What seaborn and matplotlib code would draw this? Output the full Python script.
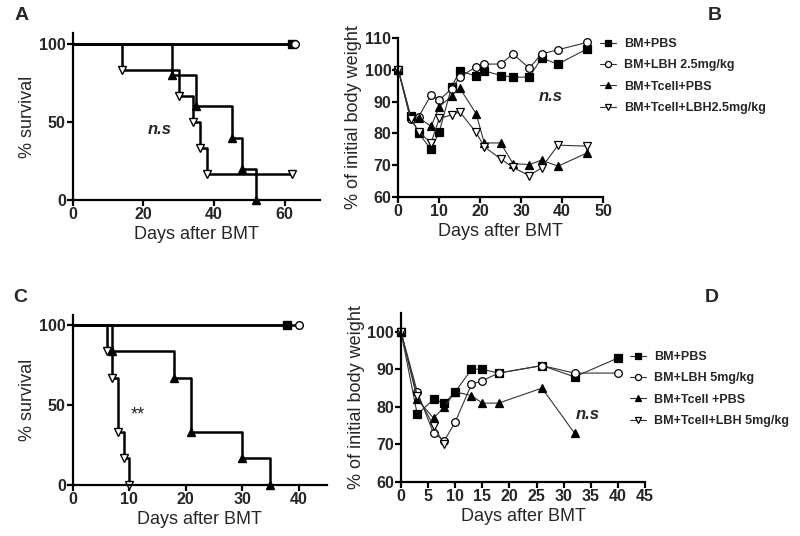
import pandas as pd
import matplotlib
matplotlib.use("Agg")
import matplotlib.pyplot as plt
import seaborn as sns

# ---- survival data (panel A) ----
a_bm_pbs_x = [0, 62]
a_bm_pbs_y = [100, 100]
a_bm_lbh_x = [0, 63]
a_bm_lbh_y = [100, 100]
a_tc_pbs_x = [0, 28, 35, 45, 48, 52]
a_tc_pbs_y = [100, 80, 60, 40, 20, 0]
a_tc_lbh_x = [0, 14, 30, 34, 36, 38, 62]
a_tc_lbh_y = [100, 83.3, 66.7, 50, 33.3, 16.7, 16.7]

# ---- survival data (panel C) ----
c_bm_pbs_x = [0, 38]
c_bm_pbs_y = [100, 100]
c_bm_lbh_x = [0, 40]
c_bm_lbh_y = [100, 100]
c_tc_pbs_x = [0, 7, 18, 21, 30, 35]
c_tc_pbs_y = [100, 83.3, 66.7, 33.3, 16.7, 0]
c_tc_lbh_x = [0, 6, 7, 8, 9, 10]
c_tc_lbh_y = [100, 83.3, 66.7, 33.3, 16.7, 0]

# ---- body weight (panel B) ----
b_days = [0, 3, 5, 8, 10, 13, 15, 19, 21, 25, 28, 32, 35, 39, 46]
b_bm_pbs = [100, 85.5, 80, 75, 80.5, 94.5, 99.7, 98, 99.7, 98.2, 97.7, 97.7, 103.7, 101.8, 106.5]
b_bm_lbh = [100, 84.5, 85.3, 92.1, 90.5, 94, 97.6, 101, 101.8, 101.8, 105, 100.5, 105, 106.3, 108.6]
b_tc_pbs = [100, 85.5, 85, 82.2, 88.4, 91.7, 94.3, 86.2, 77, 77, 70.5, 70.2, 71.6, 69.7, 73.8]
b_tc_lbh = [100, 84.5, 80.5, 77, 84.7, 85.8, 86.8, 80.3, 75.8, 72, 69.3, 66.7, 69.2, 76.3, 76]

# ---- body weight (panel D) ----
d_days = [0, 3, 6, 8, 10, 13, 15, 18, 26, 32, 40]
d_bm_pbs = [100, 78, 82, 81, 84, 90, 90, 89, 91, 88, 93]
d_bm_lbh = [100, 84, 73, 71, 76, 86, 87, 89, 91, 89, 89]
d_tc_pbs_days = [0, 3, 6, 8, 10, 13, 15, 18, 26, 32]
d_tc_pbs = [100, 82, 77, 80, 84, 83, 81, 81, 85, 73]
d_tc_lbh_days = [0, 3, 6, 8]
d_tc_lbh = [100, 83, 75, 70]

labels_b = ["BM+PBS", "BM+LBH 2.5mg/kg", "BM+Tcell+PBS", "BM+Tcell+LBH2.5mg/kg"]
labels_d = ["BM+PBS", "BM+LBH 5mg/kg", "BM+Tcell +PBS", "BM+Tcell+LBH 5mg/kg"]

sns.set_style("ticks")
plt.rcParams["font.family"] = ["Liberation Sans", "DejaVu Sans"]

W, H = 800, 536
fig = plt.figure(figsize=(8, 5.36), dpi=100)


def add_ax(left, top, right, bottom):
    return fig.add_axes([left / W, 1 - bottom / H, (right - left) / W, (bottom - top) / H])


axA = add_ax(72.7, 33, 320, 200)
axB = add_ax(398.3, 38, 603, 197)
axC = add_ax(72.7, 315, 327, 485)
axD = add_ax(401, 313, 645, 482)

# marker styles: square filled, circle open, triangle filled, down-triangle open
styles = [("s", "black"), ("o", "white"), ("^", "black"), ("v", "white")]


def style_ax(ax):
    for s in ["top", "right"]:
        ax.spines[s].set_visible(False)
    for s in ["left", "bottom"]:
        ax.spines[s].set_linewidth(1.6)
        ax.spines[s].set_color("black")
    ax.tick_params(width=1.6, length=4, direction="out", labelsize=11.5, pad=1, color="black")
    for t in ax.get_xticklabels() + ax.get_yticklabels():
        t.set_fontweight("bold")
    ax.set_xlabel("Days after BMT", fontsize=13, labelpad=3)


def survival(ax, series):
    for (x, y), (m, fc) in zip(series, styles):
        df = pd.DataFrame({"x": x, "y": y})
        sns.lineplot(data=df, x="x", y="y", ax=ax, drawstyle="steps-post", color="black",
                     lw=1.8, marker=m, markersize=5.5, markerfacecolor=fc,
                     markeredgecolor="black", markeredgewidth=1.0,
                     markevery=list(range(1, len(x))), clip_on=False, sort=False,
                     estimator=None)


def weight(ax, series, labels):
    for (x, y), (m, fc), lab in zip(series, styles, labels):
        df = pd.DataFrame({"x": x, "y": y})
        sns.lineplot(data=df, x="x", y="y", ax=ax, color="#333333", lw=0.8,
                     marker=m, markersize=5.5, markerfacecolor=fc,
                     markeredgecolor="black", markeredgewidth=0.9, label=lab,
                     clip_on=False, sort=False, estimator=None)


def add_legend(ax, x, y):
    handles, labs = ax.get_legend_handles_labels()
    ax.legend(handles, labs, loc="upper left", bbox_to_anchor=(x / W, 1 - y / H),
              bbox_transform=fig.transFigure, frameon=False, numpoints=1,
              prop={"size": 9, "weight": "bold"}, handlelength=1.3, markerscale=0.8,
              handletextpad=0.6, labelspacing=0.75, borderaxespad=0, borderpad=0)


# Panel A
survival(axA, [(a_bm_pbs_x, a_bm_pbs_y), (a_bm_lbh_x, a_bm_lbh_y),
               (a_tc_pbs_x, a_tc_pbs_y), (a_tc_lbh_x, a_tc_lbh_y)])
axA.set_xlim(0, 70)
axA.set_ylim(0, 107)
axA.set_xticks([0, 20, 40, 60])
axA.set_yticks([0, 50, 100])
axA.set_ylabel("% survival", fontsize=13, labelpad=2)
axA.text(24.5, 45, "n.s", fontsize=12, fontweight="bold", style="italic", ha="center", va="center")
style_ax(axA)

# Panel C
survival(axC, [(c_bm_pbs_x, c_bm_pbs_y), (c_bm_lbh_x, c_bm_lbh_y),
               (c_tc_pbs_x, c_tc_pbs_y), (c_tc_lbh_x, c_tc_lbh_y)])
axC.set_xlim(0, 45)
axC.set_ylim(0, 106)
axC.set_xticks([0, 10, 20, 30, 40])
axC.set_yticks([0, 50, 100])
axC.set_ylabel("% survival", fontsize=13, labelpad=2)
axC.text(11.5, 43.5, "**", fontsize=13, ha="center", va="center")
style_ax(axC)

# Panel B
weight(axB, [(b_days, b_bm_pbs), (b_days, b_bm_lbh), (b_days, b_tc_pbs), (b_days, b_tc_lbh)], labels_b)
axB.set_xlim(0, 50)
axB.set_ylim(60, 110)
axB.set_xticks(range(0, 51, 10))
axB.set_yticks(range(60, 111, 10))
axB.set_ylabel("% of initial body weight", fontsize=13, labelpad=2)
axB.text(37.3, 91.5, "n.s", fontsize=12, fontweight="bold", style="italic", ha="center", va="center")
add_legend(axB, 600, 38)
style_ax(axB)

# Panel D
weight(axD, [(d_days, d_bm_pbs), (d_days, d_bm_lbh), (d_tc_pbs_days, d_tc_pbs),
             (d_tc_lbh_days, d_tc_lbh)], labels_d)
axD.set_xlim(0, 45)
axD.set_ylim(60, 105)
axD.set_xticks(range(0, 46, 5))
axD.set_yticks(range(60, 101, 10))
axD.set_ylabel("% of initial body weight", fontsize=13, labelpad=2)
axD.text(34.5, 78, "n.s", fontsize=12, fontweight="bold", style="italic", ha="center", va="center")
add_legend(axD, 630, 351)
style_ax(axD)

# panel letters
for lab, x, y in [("A", 22, 15), ("B", 715, 15), ("C", 20, 298), ("D", 712, 297)]:
    fig.text(x / W, 1 - y / H, lab, fontsize=14, fontweight="bold", ha="center", va="center")

fig.savefig("out.png", dpi=100)
